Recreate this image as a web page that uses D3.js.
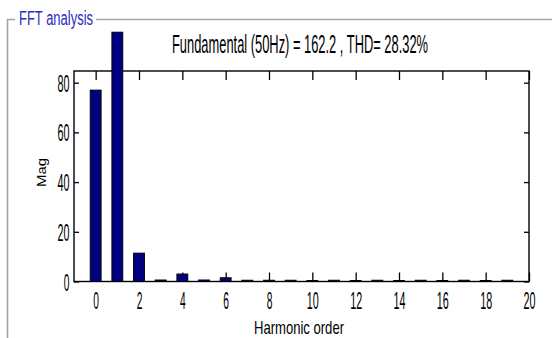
<!DOCTYPE html>
<html><head><meta charset="utf-8">
<script src="https://cdn.jsdelivr.net/npm/d3@7"></script>
<style>
body{margin:0;background:#fff;}
svg text{font-family:"Liberation Sans",Arial,sans-serif;}
</style></head>
<body><svg id="c" width="552" height="338"></svg>
<script>
const harmonics = [0,1,2,3,4,5,6,7,8,9,10,11,12,13,14,15,16,17,18,19];
const magnitudes = [77.0,100.3,11.4,0.6,3.0,0.6,1.5,0.5,0.5,0.5,0.4,0.5,0.4,0.5,0.4,0.5,0.4,0.5,0.4,0.5];
const xTicks = [0,2,4,6,8,10,12,14,16,18,20];
const yTicks = [0,20,40,60,80];
const titleText = "Fundamental (50Hz) = 162.2 , THD= 28.32%";
const panelTitle = "FFT analysis";
const xLabel = "Harmonic order";
const yLabel = "Mag";

const svg = d3.select("#c");
const L=74,R=529,T=71,B=281.5;
const x = d3.scaleLinear().domain([-1,20]).range([L,R]);
const y = d3.scaleLinear().domain([0,84.7]).range([B,T]);

// tall narrow text: small font stretched vertically, fitted to a width
function tallText(px, py, str, fs, k, w, color){
  return svg.append("text").attr("transform",`translate(${px},${py}) scale(1,${k})`)
    .attr("fill",color||"#000").style("font-size",fs+"px")
    .attr("textLength",w).attr("lengthAdjust","spacingAndGlyphs").text(str);
}

// panel frame
svg.append("path").attr("d",`M7.5,338 V19.5 H15 M96,19.5 H552`)
  .attr("fill","none").attr("stroke","#a4a4a4").attr("stroke-width",1.6);
tallText(19,24.5,panelTitle,11,20/11,74,"#2b2bc0");

// plot background
svg.append("rect").attr("x",L).attr("y",T).attr("width",R-L).attr("height",B-T)
  .attr("fill","#fff");

// axes
const xb = d3.axisBottom(x).tickValues(xTicks).tickSize(-9).tickPadding(0);
const xt = d3.axisTop(x).tickValues(xTicks).tickSize(-9).tickFormat("");
const yl = d3.axisLeft(y).tickValues(yTicks).tickSize(-5).tickPadding(4.5);
const yr = d3.axisRight(y).tickValues(yTicks).tickSize(-5).tickFormat("");
function style(g){g.select(".domain").remove();g.selectAll("line").attr("stroke","#000").attr("stroke-width",1.3);
  g.selectAll("text").attr("fill","#000").attr("font-family",null)
   .style("font-size","23px").attr("lengthAdjust","spacingAndGlyphs")
   .attr("textLength",function(){return 6.3*this.textContent.length - 0.6;});}
const gx = svg.append("g").attr("transform",`translate(0,${B})`).call(xb).call(style);
gx.selectAll("text").attr("dy",null).attr("y",27.5);
svg.append("g").attr("transform",`translate(0,${T})`).call(xt).call(style);
const gy = svg.append("g").attr("transform",`translate(${L},0)`).call(yl).call(style);
gy.selectAll("text").attr("dy",null).attr("y",8.5).style("font-size","24px");
svg.append("g").attr("transform",`translate(${R},0)`).call(yr).call(style);

// bars
const bw = x(0.5)-x(0);
svg.selectAll("rect.bar").data(harmonics).join("rect").attr("class","bar")
  .attr("x",d=>x(d)-bw/2).attr("width",bw)
  .attr("y",(d,i)=>y(magnitudes[i])).attr("height",(d,i)=>B-y(magnitudes[i]))
  .attr("fill","#000080").attr("stroke","#000").attr("stroke-width",1);

// box edges
svg.append("rect").attr("x",L).attr("y",T).attr("width",R-L).attr("height",B-T)
  .attr("fill","none").attr("stroke","#000").attr("stroke-width",1.4);
svg.selectAll("rect.bar").raise();

tallText(172,53,titleText,13,25/13,256);
tallText(254,334,xLabel,12,1.51,90);
svg.append("text").attr("transform","translate(45.5,187) rotate(-90)").attr("fill","#000")
  .style("font-size","12px").attr("textLength",29).attr("lengthAdjust","spacingAndGlyphs").text(yLabel);
</script></body></html>
